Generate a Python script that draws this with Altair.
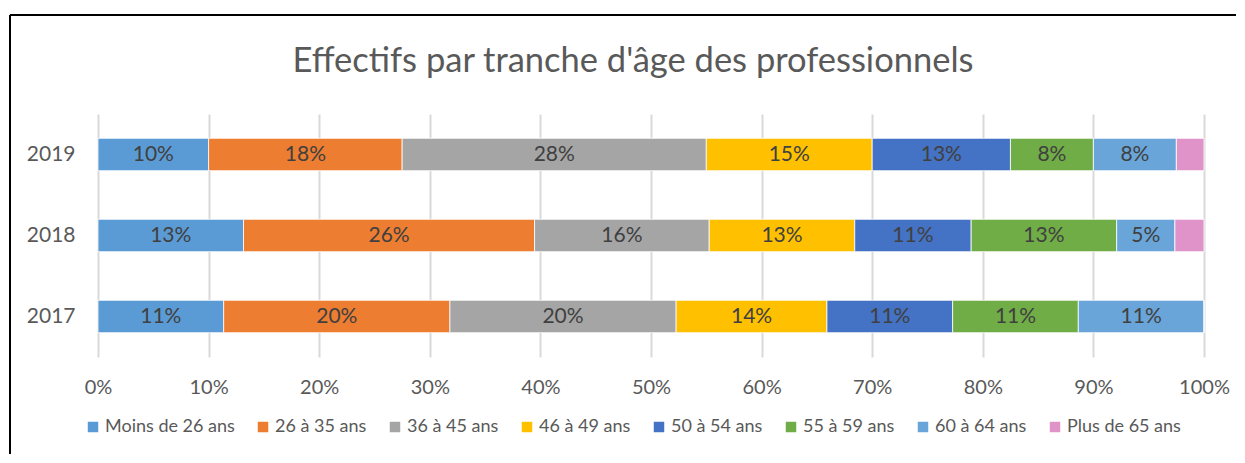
import altair as alt
import pandas as pd

years = ["2019", "2018", "2017"]
groups = ["Moins de 26 ans", "26 à 35 ans", "36 à 45 ans", "46 à 49 ans",
          "50 à 54 ans", "55 à 59 ans", "60 à 64 ans", "Plus de 65 ans"]
colors = ["#5B9BD5", "#ED7D31", "#A5A5A5", "#FFC000",
          "#4472C4", "#70AD47", "#69A5D9", "#E093C8"]
counts_2019 = [4, 7, 11, 6, 5, 3, 3, 1]
counts_2018 = [5, 10, 6, 5, 4, 5, 2, 1]
counts_2017 = [5, 9, 9, 6, 5, 5, 5, 0]
x_ticks = [0, 0.1, 0.2, 0.3, 0.4, 0.5, 0.6, 0.7, 0.8, 0.9, 1.0]
title_text = "Effectifs par tranche d'âge des professionnels"

rows = []
for yr, counts in zip(years, [counts_2019, counts_2018, counts_2017]):
    for i, (g, c) in enumerate(zip(groups, counts)):
        rows.append({"annee": yr, "tranche": g, "ordre": i, "effectif": c})
df = pd.DataFrame(rows)

FONT = "Lato"
GREY = "#595959"

base = alt.Chart(df).transform_stack(
    stack="effectif", groupby=["annee"],
    sort=[alt.SortField("ordre", order="ascending")],
    as_=["x0", "x1"], offset="normalize"
).transform_joinaggregate(
    total="sum(effectif)", groupby=["annee"]
).transform_calculate(
    mid="(datum.x0 + datum.x1) / 2",
    pct="datum.effectif / datum.total"
)

y_enc = alt.Y("annee:N", sort=years,
              scale=alt.Scale(paddingInner=0.6, paddingOuter=0.3),
              axis=alt.Axis(title=None, domain=False, ticks=False, grid=False,
                            labelPadding=23, labelFontSize=21, labelColor=GREY,
                            labelFont=FONT))

bars = base.mark_bar(stroke="white", strokeWidth=0.8).encode(
    x=alt.X("x0:Q", scale=alt.Scale(domain=[0, 1], nice=False),
            axis=alt.Axis(values=x_ticks, format=".0%", title=None, domain=False,
                          ticks=False, grid=True, gridColor="#D9D9D9", gridWidth=2,
                          labelPadding=20, labelFontSize=20, labelColor=GREY,
                          labelFont=FONT, labelFlush=False, labelOverlap=False)),
    x2="x1:Q",
    y=y_enc,
    color=alt.Color("tranche:N", scale=alt.Scale(domain=groups, range=colors),
                    legend=alt.Legend(title=None, orient="none", legendX=-14, legendY=304,
                                      direction="horizontal", columns=8,
                                      symbolType="square", symbolSize=110,
                                      symbolStrokeWidth=0, labelFontSize=18,
                                      labelFont=FONT, labelColor=GREY,
                                      columnPadding=19, labelOffset=3, padding=0)),
)

labels = base.transform_filter(
    "datum.tranche != 'Plus de 65 ans' && datum.effectif > 0"
).mark_text(font=FONT, fontSize=21, color="#404040").encode(
    x=alt.X("mid:Q"),
    y=alt.Y("annee:N", sort=years),
    text=alt.Text("pct:Q", format=".0%"),
)

frame_df = pd.DataFrame({"k": [0]})
title_df = pd.DataFrame({"t": [title_text]})
title_mark = alt.Chart(title_df).mark_text(
    font=FONT, fontSize=34.5, color=GREY, align="center", baseline="middle"
).encode(x=alt.value(535), y=alt.value(-52), text="t:N")
top_rule = alt.Chart(frame_df).mark_rule(color="black", strokeWidth=2).encode(
    x=alt.value(-88), x2=alt.value(1138), y=alt.value(-99))
left_rule = alt.Chart(frame_df).mark_rule(color="black", strokeWidth=2).encode(
    x=alt.value(-88), y=alt.value(-99), y2=alt.value(340))

chart = alt.layer(bars, labels, title_mark, top_rule, left_rule).properties(
    width=1106, height=243,
    padding={"left": 1, "top": 6, "right": 0, "bottom": 0},
).configure_view(stroke=None)

chart.save("out.html", embed_options={"renderer": "svg", "actions": False})
